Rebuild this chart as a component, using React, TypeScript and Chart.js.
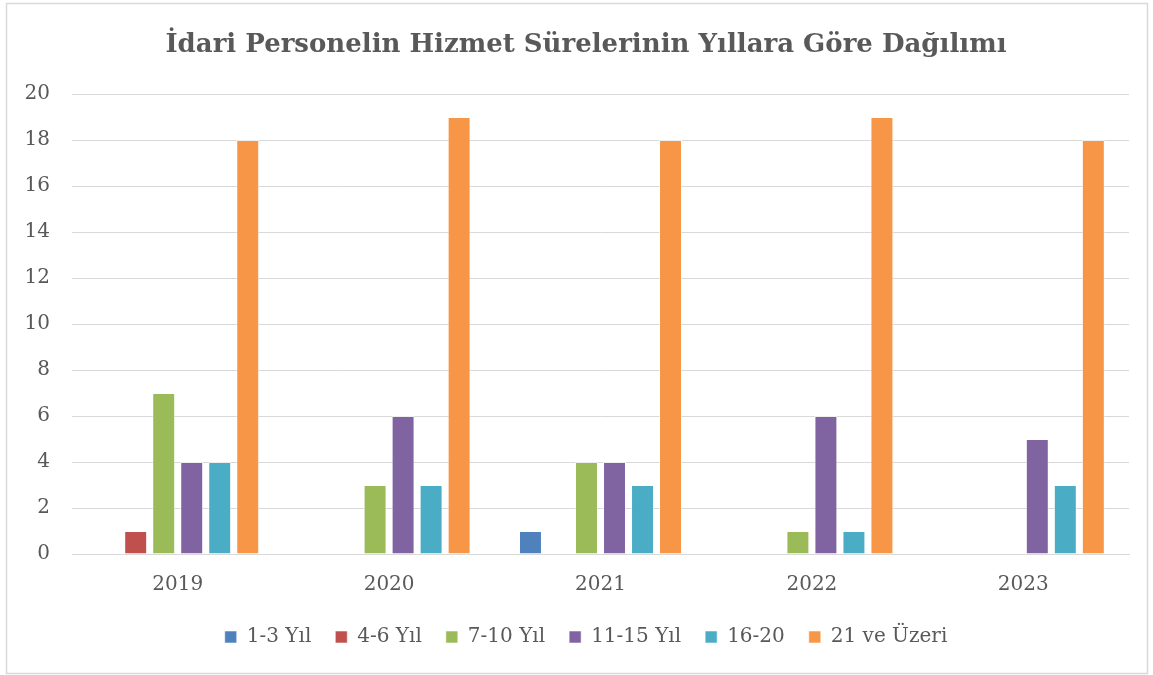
import React, { useEffect, useRef } from "react";
import { Chart, registerables } from "chart.js";

Chart.register(...registerables);

const TITLE = "İdari Personelin Hizmet Sürelerinin Yıllara Göre Dağılımı";
const YEARS = ["2019", "2020", "2021", "2022", "2023"];
const SERIES_LABELS = ["1-3 Yıl", "4-6 Yıl", "7-10 Yıl", "11-15 Yıl", "16-20", "21 ve Üzeri"];
const S_1_3 = [0, 0, 1, 0, 0];
const S_4_6 = [1, 0, 0, 0, 0];
const S_7_10 = [7, 3, 4, 1, 0];
const S_11_15 = [4, 6, 4, 6, 5];
const S_16_20 = [4, 3, 3, 1, 3];
const S_21_PLUS = [18, 19, 18, 19, 18];
const COLORS = ["#4f81bd", "#c0504d", "#9bbb59", "#8064a2", "#4bacc6", "#f79646"];
const Y_MIN = 0;
const Y_MAX = 20;
const Y_STEP = 2;

const FONT = "'DejaVu Serif', serif";
const TEXT = "#595959";
const GRID = "#d9d9d9";

const frame = {
  id: "frame",
  afterLayout(chart: any) {
    // centre title and legend over the span used in the original
    for (const b of [chart.titleBlock, chart.legend]) {
      if (b) {
        b.left = 43;
        b.right = 1129;
      }
    }
  },
  beforeDraw(chart: any) {
    const ctx = chart.ctx;
    ctx.save();
    ctx.fillStyle = "#ffffff";
    ctx.fillRect(0, 0, chart.width, chart.height);
    ctx.strokeStyle = GRID;
    ctx.lineWidth = 1.5;
    ctx.strokeRect(6.5, 3.5, chart.width - 12, chart.height - 5);
    ctx.restore();
  },
};

export default function App() {
  const ref = useRef<HTMLCanvasElement>(null);
  useEffect(() => {
    const values = [S_1_3, S_4_6, S_7_10, S_11_15, S_16_20, S_21_PLUS];
    const chart = new Chart(ref.current!, {
      type: "bar",
      data: {
        labels: YEARS,
        datasets: SERIES_LABELS.map((label, i) => ({
          label,
          data: values[i],
          backgroundColor: COLORS[i],
          borderColor: "rgba(255,255,255,0.55)",
          borderWidth: 1,
          categoryPercentage: 0.795,
          barPercentage: 0.82,
        })),
      },
      options: {
        responsive: false,
        animation: false,
        layout: { padding: { left: 0, right: 24, top: 0, bottom: 18 } },
        plugins: {
          tooltip: { enabled: false },
          title: {
            display: true,
            text: TITLE,
            color: TEXT,
            font: { family: FONT, size: 26, weight: "bold" },
            padding: { top: 30, bottom: 32.8 },
          },
          legend: {
            position: "bottom",
            labels: {
              color: TEXT,
              font: { family: FONT, size: 20 },
              boxWidth: 12,
              boxHeight: 12,
              padding: 24,
            },
          },
        },
        scales: {
          x: {
            grid: { display: false, drawTicks: false },
            border: { display: true, color: GRID, width: 1 },
            ticks: { color: TEXT, font: { family: FONT, size: 20 }, padding: 19 },
            afterFit: (s: any) => {
              s.height = 49;
            },
          },
          y: {
            min: Y_MIN,
            max: Y_MAX,
            ticks: { stepSize: Y_STEP, color: TEXT, font: { family: FONT, size: 20 }, padding: 22 },
            grid: { color: GRID, lineWidth: 1, drawTicks: false },
            border: { display: false },
            afterFit: (s: any) => {
              s.width = 72;
            },
          },
        },
      },
      plugins: [frame],
    });
    return () => chart.destroy();
  }, []);
  return (
    <div style={{ position: "fixed", left: 0, top: 0, width: 1153, height: 675, background: "#fff" }}>
      <canvas ref={ref} width={1153} height={675} style={{ width: 1153, height: 675, display: "block" }} />
    </div>
  );
}
